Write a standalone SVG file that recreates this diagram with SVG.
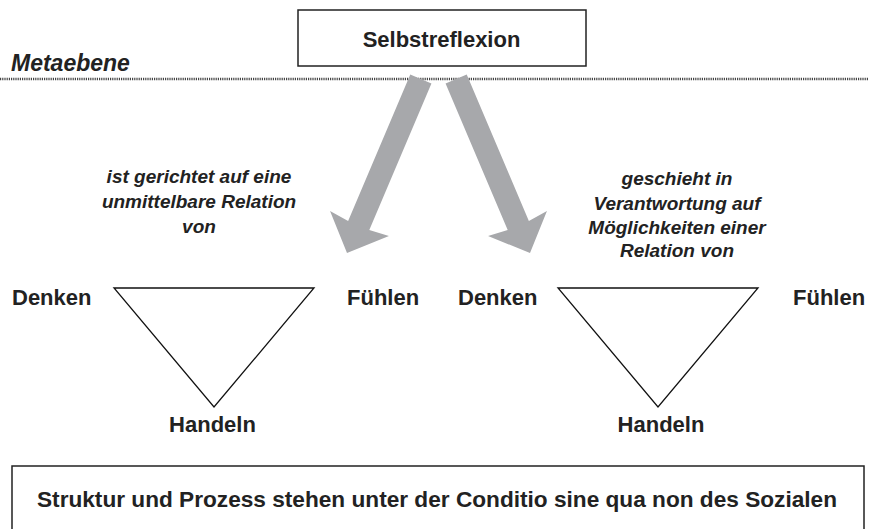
<svg xmlns="http://www.w3.org/2000/svg" width="872" height="529" viewBox="0 0 872 529">
<style>
.box{fill:#fff;stroke:#222;stroke-width:1.5}
.tri{fill:#fff;stroke:#111;stroke-width:1.3}
.arrow{fill:#a7a8ab}
.t{font-family:"Liberation Sans",Arial,sans-serif;font-weight:bold;fill:#222}
.lbl{font-family:"Liberation Sans",Arial,sans-serif;font-weight:bold;font-style:italic;font-size:19px;fill:#222;text-anchor:middle}
</style>
<defs>
<polygon id="arr" points="0,0 -32,-32 -11.5,-30 -11.5,-189 11.5,-189 11.5,-30 32,-32"/>
</defs>
<g id="metaebene">
<text class="t" x="11" y="71" font-size="23" font-style="italic">Metaebene</text>
<line x1="0" y1="79" x2="868" y2="79" stroke="#444" stroke-width="2.4" stroke-dasharray="1.2 1"/>
</g>
<g id="connectors">
<use href="#arr" class="arrow" transform="translate(347,253) rotate(23)"/>
<use href="#arr" class="arrow" transform="translate(530,253) rotate(-23)"/>
</g>
<g id="selbstreflexion">
<rect class="box" x="298" y="10" width="288" height="56"/>
<text class="t" x="441.5" y="47" font-size="22" text-anchor="middle">Selbstreflexion</text>
</g>
<g id="label-left">
<text class="lbl" x="199" y="183">ist gerichtet auf eine</text>
<text class="lbl" x="199" y="208">unmittelbare Relation</text>
<text class="lbl" x="199" y="233">von</text>
</g>
<g id="label-right">
<text class="lbl" x="677" y="185">geschieht in</text>
<text class="lbl" x="677" y="210">Verantwortung auf</text>
<text class="lbl" x="677" y="234">Möglichkeiten einer</text>
<text class="lbl" x="677" y="257">Relation von</text>
</g>
<g id="triangle-left">
<polygon class="tri" points="114,288 314,288 214,407"/>
<text class="t" x="12" y="305" font-size="22">Denken</text>
<text class="t" x="347" y="305" font-size="22">Fühlen</text>
<text class="t" x="212.5" y="432" font-size="22" text-anchor="middle">Handeln</text>
</g>
<g id="triangle-right">
<polygon class="tri" points="558,288 758,288 658,407"/>
<text class="t" x="458" y="305" font-size="22">Denken</text>
<text class="t" x="793" y="305" font-size="22">Fühlen</text>
<text class="t" x="661" y="432" font-size="22" text-anchor="middle">Handeln</text>
</g>
<g id="bedingung">
<rect class="box" x="12" y="466" width="852" height="80"/>
<text class="t" x="37" y="507" font-size="22.5" textLength="800" lengthAdjust="spacingAndGlyphs">Struktur und Prozess stehen unter der Conditio sine qua non des Sozialen</text>
</g>
</svg>
